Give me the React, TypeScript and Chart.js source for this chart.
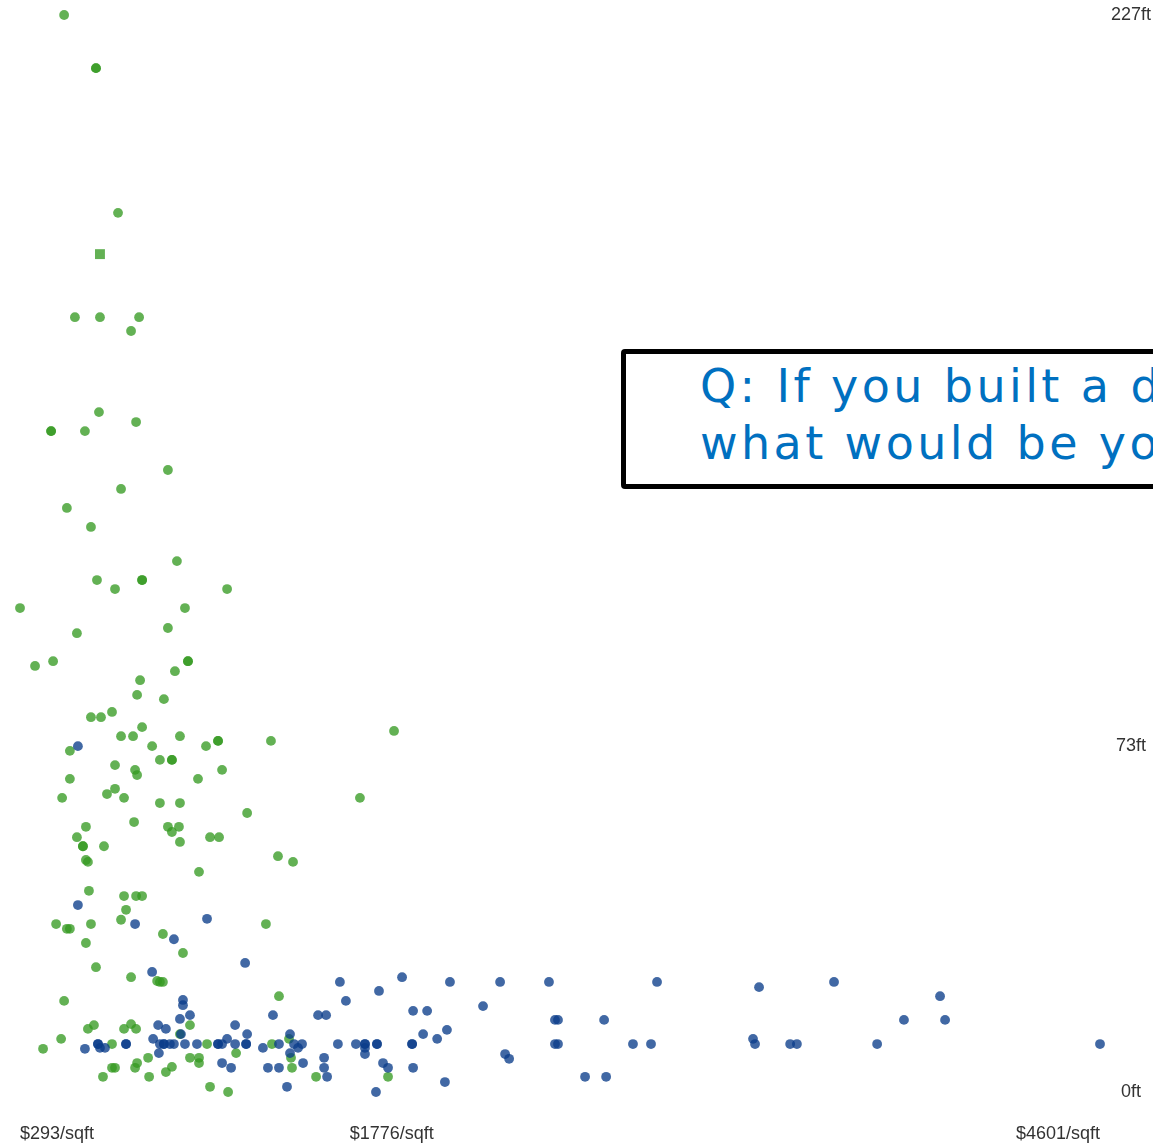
import React, { useEffect, useRef } from 'react';
import { Chart, registerables } from 'chart.js';

Chart.register(...registerables);

// Axis ticks
const xTicks = [293, 1776, 4601];
const yTicks = [0, 73, 227];

// Green series: [price per sqft, height in ft]
const greenSeries: [number, number][] = [
  [469, 227.0], [596, 215.8], [596, 215.8], [684, 185.3], [512, 163.3], [612, 163.3], [768, 163.3], [736, 160.4],
  [608, 143.3], [756, 141.2], [417, 139.3], [417, 139.3], [552, 139.3], [883, 131.1], [696, 127.1], [480, 123.1],
  [576, 119.1], [919, 111.9], [600, 107.9], [780, 107.9], [780, 107.9], [672, 106.0], [1119, 106.0], [293, 102.0],
  [951, 102.0], [520, 96.7], [883, 97.8], [353, 89.8], [425, 90.8], [963, 90.8], [963, 90.8], [911, 88.7],
  [772, 86.8], [760, 83.7], [867, 82.8], [576, 79.0], [616, 79.0], [660, 80.1], [780, 76.9], [696, 75.0],
  [744, 75.0], [931, 75.0], [492, 71.9], [820, 72.9], [1035, 72.9], [1083, 74.0], [1083, 74.0], [1294, 74.0],
  [1785, 76.1], [672, 68.9], [752, 67.9], [760, 66.8], [851, 70.0], [899, 70.0], [899, 70.0], [1099, 67.9],
  [492, 66.0], [1003, 66.0], [461, 62.0], [640, 62.8], [672, 63.9], [708, 62.0], [851, 60.9], [931, 60.9],
  [1649, 62.0], [1199, 58.8], [556, 55.9], [748, 56.9], [883, 55.9], [899, 54.8], [927, 55.9], [520, 53.7],
  [544, 51.8], [544, 51.8], [628, 51.8], [931, 52.7], [1051, 53.7], [1087, 53.7], [556, 48.9], [564, 48.5],
  [1322, 49.7], [1382, 48.5], [1007, 46.4], [568, 42.4], [708, 41.3], [756, 41.3], [780, 41.3], [716, 38.4],
  [696, 36.3], [437, 35.4], [480, 34.4], [492, 34.4], [576, 35.4], [1274, 35.4], [863, 33.3], [556, 31.4],
  [943, 29.3], [596, 26.3], [736, 24.2], [840, 23.4], [851, 23.2], [863, 23.2], [1326, 20.2], [469, 19.2],
  [564, 13.3], [588, 14.1], [708, 13.3], [736, 14.3], [756, 13.3], [971, 14.1], [931, 12.2], [457, 11.2],
  [385, 9.1], [660, 10.1], [1039, 10.1], [1298, 10.1], [1366, 11.2], [804, 7.2], [760, 6.1], [752, 5.1],
  [660, 5.1], [672, 5.1], [624, 3.2], [808, 3.2], [875, 4.2], [899, 5.3], [971, 7.2], [1007, 7.2],
  [1007, 6.1], [1155, 8.2], [1051, 1.1], [1123, 0], [1374, 7.2], [1378, 5.1], [1474, 3.2], [1761, 3.2],
];

// Single highlighted green entry (drawn as a square)
const markedSeries: [number, number][] = [[612, 176.6]];

// Blue series: [price per sqft, height in ft]
const blueSeries: [number, number][] = [
  [524, 72.9], [524, 39.4], [752, 35.4], [1039, 36.5], [907, 32.2], [1191, 27.2], [820, 25.3], [943, 19.4],
  [943, 18.3], [971, 16.2], [931, 15.4], [844, 14.1], [875, 13.3], [935, 12.2], [824, 11.2], [612, 9.3],
  [632, 9.3], [552, 9.1], [604, 10.1], [604, 10.1], [716, 10.1], [716, 10.1], [851, 10.1], [867, 10.1],
  [867, 10.1], [891, 10.1], [907, 10.1], [951, 10.1], [999, 10.1], [1083, 10.1], [1083, 10.1], [1099, 10.1],
  [1119, 11.2], [1151, 10.1], [1195, 10.1], [1195, 10.1], [1151, 14.1], [1199, 12.2], [1262, 9.3], [1326, 10.1],
  [1302, 16.2], [1370, 12.2], [1370, 8.2], [1386, 10.1], [1418, 10.1], [1402, 9.3], [1422, 6.1], [1282, 5.1],
  [1326, 5.1], [1358, 1.1], [847, 8.2], [1099, 6.1], [1135, 5.1], [1482, 16.2], [1514, 16.2], [1569, 23.2],
  [1817, 24.2], [2008, 23.2], [2208, 23.2], [2403, 23.2], [2834, 23.2], [1725, 21.3], [1593, 19.2], [2140, 18.1],
  [1861, 17.1], [1917, 17.1], [2427, 15.2], [2439, 15.2], [2623, 15.2], [1561, 10.1], [1633, 10.1], [1669, 10.1],
  [1669, 10.1], [1669, 9.3], [1669, 8.0], [1717, 10.1], [1717, 10.1], [1857, 10.1], [1857, 10.1], [1901, 12.2],
  [1957, 11.2], [1996, 13.1], [2427, 10.1], [2439, 10.1], [2738, 10.1], [2810, 10.1], [2228, 8.0], [2244, 7.0],
  [1506, 7.2], [1506, 5.1], [1518, 3.2], [1741, 6.1], [1761, 5.1], [1861, 5.1], [1988, 2.1], [1713, 0],
  [2547, 3.2], [2631, 3.2], [3241, 22.1], [3540, 23.2], [3963, 20.2], [3819, 15.2], [3983, 15.2], [3217, 11.2],
  [3225, 10.1], [3365, 10.1], [3392, 10.1], [3712, 10.1], [4601, 10.1],
];

const noteLines = ['Q: If you built a d', 'what would be yo'];

const GREEN = 'rgba(52, 153, 32, 0.77)';
const BLUE = 'rgba(12, 62, 138, 0.78)';
const W = 1153;
const H = 1144;

const toPoints = (s: [number, number][]) => s.map(([x, y]) => ({ x, y }));

const zeroPadding = (s: any) => {
  s.paddingLeft = 0;
  s.paddingRight = 0;
  s.paddingTop = 0;
  s.paddingBottom = 0;
};

export default function App() {
  const ref = useRef<HTMLCanvasElement>(null);

  useEffect(() => {
    const canvas = ref.current;
    if (!canvas) return;
    const tickFont = { family: '"Liberation Sans", Arial, sans-serif', size: 18 };
    const chart = new Chart(canvas, {
      type: 'scatter',
      data: {
        datasets: [
          {
            label: 'blue',
            data: toPoints(blueSeries),
            backgroundColor: BLUE,
            borderWidth: 0,
            pointRadius: 4.9,
            clip: false as any,
          },
          {
            label: 'green',
            data: toPoints(greenSeries),
            backgroundColor: GREEN,
            borderWidth: 0,
            pointRadius: 4.9,
            clip: false as any,
          },
          {
            label: 'marked',
            data: toPoints(markedSeries),
            backgroundColor: GREEN,
            borderWidth: 0,
            pointStyle: 'rect',
            pointRadius: 7,
            clip: false as any,
          },
        ],
      },
      options: {
        responsive: false,
        animation: false,
        devicePixelRatio: 1,
        events: [],
        layout: { padding: { left: 20, top: 15, right: 0, bottom: 0 } },
        plugins: { legend: { display: false }, tooltip: { enabled: false } },
        scales: {
          x: {
            type: 'linear',
            position: 'bottom',
            min: 293,
            max: 4601,
            grid: { display: false, drawTicks: false },
            border: { display: false },
            afterBuildTicks: (s: any) => {
              s.ticks = xTicks.map((v) => ({ value: v }));
            },
            afterFit: (s: any) => {
              s.height = 52;
              zeroPadding(s);
            },
            ticks: {
              align: 'inner',
              autoSkip: false,
              maxRotation: 0,
              minRotation: 0,
              padding: 31,
              color: '#333',
              font: tickFont,
              callback: (v: any) => `$${v}/sqft`,
            },
          },
          y: {
            type: 'linear',
            position: 'right',
            min: 0,
            max: 227,
            grid: { display: false, drawTicks: false },
            border: { display: false },
            afterBuildTicks: (s: any) => {
              s.ticks = yTicks.map((v) => ({ value: v }));
            },
            afterFit: (s: any) => {
              s.width = 53;
              zeroPadding(s);
            },
            ticks: {
              crossAlign: 'center',
              autoSkip: false,
              padding: 11,
              color: '#333',
              font: tickFont,
              callback: (v: any) => `${v}ft`,
            },
          },
        },
      } as any,
    });
    return () => chart.destroy();
  }, []);

  return (
    <div
      style={{
        position: 'fixed',
        left: 0,
        top: 0,
        width: W,
        height: H,
        overflow: 'hidden',
        background: '#fff',
      }}
    >
      <canvas ref={ref} width={W} height={H} style={{ display: 'block', width: W, height: H }} />
      <div
        style={{
          position: 'absolute',
          left: 621,
          top: 349,
          width: 760,
          height: 140,
          boxSizing: 'border-box',
          border: '5px solid #000',
          borderRadius: 4,
          background: '#fff',
        }}
      >
        <div
          style={{
            position: 'absolute',
            left: 74,
            top: 4,
            whiteSpace: 'nowrap',
            color: '#0070c0',
            fontFamily: '"DejaVu Sans", sans-serif',
            fontSize: 46,
            lineHeight: '57px',
            letterSpacing: 3.4,
          }}
        >
          {noteLines.map((l, i) => (
            <div key={i}>{l}</div>
          ))}
        </div>
      </div>
    </div>
  );
}
